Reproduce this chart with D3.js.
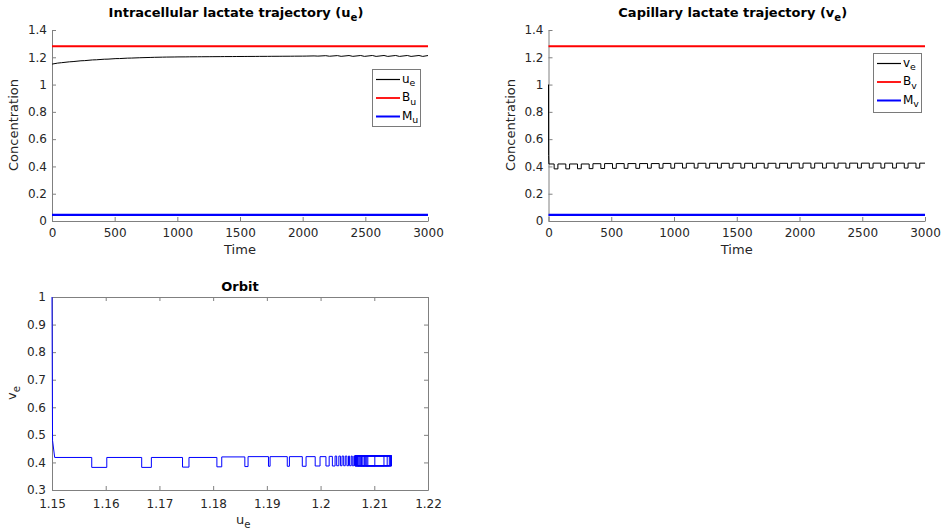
<!DOCTYPE html>
<html>
<head>
<meta charset="utf-8">
<script src="https://cdn.jsdelivr.net/npm/d3@7/dist/d3.min.js"></script>
<style>
  html, body { margin: 0; padding: 0; background: #fff; }
  svg { display: block; }
  text { font-family: "DejaVu Sans", sans-serif; }
</style>
</head>
<body>
<svg id="chart" width="943" height="532"></svg>
<script>
// ---------------- data ----------------
// initial transient (t, u_e, v_e)
const startT = [0, 1, 3];
const startU = [1.15, 1.1501, 1.1505];
const startV = [1.0, 0.48, 0.418];

// times where v_e switches to its low level / back to its high level
const lowStart = [45, 138, 231, 324, 417, 510, 603, 696, 789, 882, 975, 1068, 1161, 1254, 1347, 1440,
                  1533, 1626, 1719, 1812, 1905, 1998, 2091, 2184, 2277, 2370, 2463, 2556, 2649, 2742, 2835, 2928];
const lowEnd   = [75, 168, 261, 354, 447, 540, 633, 726, 819, 912, 1005, 1098, 1191, 1284, 1377, 1470,
                  1563, 1656, 1749, 1842, 1935, 2028, 2121, 2214, 2307, 2400, 2493, 2586, 2679, 2772, 2865, 2958];
// u_e at those switching times
const uLowStart = [1.1574, 1.1667, 1.1743, 1.1807, 1.1859, 1.1903, 1.1938, 1.1966, 1.1990, 1.2010, 1.2022, 1.2030,
                   1.2037, 1.2043, 1.2049, 1.2054, 1.2059, 1.2064, 1.2069, 1.2074, 1.2079, 1.2084, 1.2101, 1.2118,
                   1.2124, 1.2128, 1.2130, 1.2131, 1.2132, 1.2132, 1.2132, 1.2132];
const uLowEnd   = [1.1602, 1.1685, 1.1755, 1.1816, 1.1865, 1.1906, 1.1942, 1.1973, 1.1999, 1.2016, 1.2027, 1.2034,
                   1.2040, 1.2046, 1.2052, 1.2057, 1.2062, 1.2067, 1.2072, 1.2077, 1.2082, 1.2088, 1.2086, 1.2076,
                   1.2070, 1.2068, 1.2066, 1.2065, 1.2065, 1.2064, 1.2064, 1.2064];
// v_e level in the high phase before each low phase (last entry: after the last one) and in each low phase
const vHigh = [0.418, 0.418, 0.418, 0.418, 0.420, 0.421, 0.421, 0.421, 0.421, 0.421, 0.422, 0.423, 0.423, 0.423,
               0.423, 0.423, 0.423, 0.423, 0.423, 0.423, 0.423, 0.424, 0.424, 0.424, 0.424, 0.424, 0.424, 0.424,
               0.424, 0.424, 0.424, 0.424, 0.424];
const vLow  = [0.382, 0.382, 0.383, 0.384, 0.385, 0.386, 0.386, 0.386, 0.387, 0.387, 0.387, 0.388, 0.388, 0.388,
               0.388, 0.388, 0.388, 0.388, 0.388, 0.388, 0.388, 0.388, 0.388, 0.388, 0.388, 0.388, 0.388, 0.388,
               0.388, 0.388, 0.388, 0.388];
const endT = 3000, endU = 1.2128;

// bounds
const Bu = 1.28, Mu = 0.045;
const Bv = 1.28, Mv = 0.045;

// ticks
const timeTicks = [0, 500, 1000, 1500, 2000, 2500, 3000];
const concTicks = [0, 0.2, 0.4, 0.6, 0.8, 1, 1.2, 1.4];
const orbitXTicks = [1.15, 1.16, 1.17, 1.18, 1.19, 1.2, 1.21, 1.22];
const orbitYTicks = [0.3, 0.4, 0.5, 0.6, 0.7, 0.8, 0.9, 1];

// ---------------- build trajectory table ----------------
const traj = [];
startT.forEach((t, i) => traj.push({t, u: startU[i], v: startV[i]}));
lowStart.forEach((t, k) => {
  traj.push({t, u: uLowStart[k], v: vHigh[k]});
  traj.push({t, u: uLowStart[k], v: vLow[k]});
  traj.push({t: lowEnd[k], u: uLowEnd[k], v: vLow[k]});
  traj.push({t: lowEnd[k], u: uLowEnd[k], v: vHigh[k + 1]});
});
traj.push({t: endT, u: endU, v: vHigh[vHigh.length - 1]});

// ---------------- drawing ----------------
const svg = d3.select("#chart");
const AX = "#808080", TXT = "#262626";

function fmt(d) { return String(+d.toFixed(2)); }

function styleAxis(g) {
  g.selectAll(".domain").attr("stroke", AX).attr("stroke-width", 1);
  g.selectAll(".tick line").attr("stroke", AX);
  g.selectAll(".tick text").attr("fill", TXT).style("font-size", "12px")
    .style("font-family", "DejaVu Sans, sans-serif");
}

function subText(g, x, y, main, sub, size, opts = {}) {
  const t = g.append("text").attr("x", x).attr("y", y).attr("fill", opts.fill || TXT)
    .style("font-size", size + "px")
    .attr("text-anchor", opts.anchor || "start")
    .style("font-weight", opts.bold ? "bold" : "normal");
  if (opts.rotate) t.attr("transform", `rotate(-90,${x},${y})`);
  t.append("tspan").text(main);
  t.append("tspan").text(sub).attr("dy", size * 0.3).style("font-size", (size * 0.78) + "px");
  if (opts.after) t.append("tspan").text(opts.after).attr("dy", -size * 0.3);
  return t;
}

function timePanel(x0, x1, key, title, sub, B, M, legBox, labels) {
  const x = d3.scaleLinear().domain([0, 3000]).range([x0, x1]);
  const y = d3.scaleLinear().domain([0, 1.4]).range([221, 30]);
  const g = svg.append("g");

  const gx = g.append("g").attr("transform", "translate(0,221)")
    .call(d3.axisBottom(x).tickValues(timeTicks).tickSizeInner(-4).tickSizeOuter(0).tickPadding(7).tickFormat(d3.format("d")));
  styleAxis(gx);
  const gy = g.append("g").attr("transform", `translate(${x0},0)`)
    .call(d3.axisLeft(y).tickValues(concTicks).tickSizeInner(-4).tickSizeOuter(0).tickPadding(5).tickFormat(fmt));
  styleAxis(gy);

  // bound lines
  const ends = [timeTicks[0], timeTicks[timeTicks.length - 1]];
  g.append("path").datum(ends)
    .attr("d", d3.line().x(d => x(d)).y(() => y(B))).attr("stroke", "#ff0000").attr("stroke-width", 2).attr("fill", "none");
  g.append("path").datum(ends)
    .attr("d", d3.line().x(d => x(d)).y(() => y(M))).attr("stroke", "#0000ff").attr("stroke-width", 2.2).attr("fill", "none");
  // trajectory
  g.append("path").datum(traj)
    .attr("d", d3.line().x(d => x(d.t)).y(d => y(d[key])))
    .attr("stroke", "#000").attr("stroke-width", 1).attr("fill", "none");

  // labels
  g.append("text").attr("x", (x0 + x1) / 2).attr("y", 254).attr("text-anchor", "middle")
    .attr("fill", TXT).style("font-size", "13px").text("Time");
  g.append("text").attr("transform", `translate(${x0 - 34},125) rotate(-90)`).attr("text-anchor", "middle")
    .attr("fill", TXT).style("font-size", "13px").text("Concentration");
  subText(g, (x0 + x1) / 2 - 4, 17, title, sub, 13, {anchor: "middle", bold: true, fill: "#000", after: ")"});

  // legend
  const [lx, ly, lw, lh] = legBox;
  g.append("rect").attr("x", lx + 0.5).attr("y", ly + 0.5).attr("width", lw).attr("height", lh)
    .attr("fill", "#fff").attr("stroke", "#7a7a7a").attr("stroke-width", 1);
  const cols = ["#000", "#ff0000", "#0000ff"], widths = [1.2, 1.8, 2];
  labels.forEach((lab, i) => {
    const yy = ly + 10.5 + i * 18.5;
    g.append("line").attr("x1", lx + 4).attr("x2", lx + 28).attr("y1", yy).attr("y2", yy)
      .attr("stroke", cols[i]).attr("stroke-width", widths[i]);
    subText(g, lx + 30, yy + 3, lab[0], lab[1], 12, {fill: "#000"});
  });
}

timePanel(52, 428, "u", "Intracellular lactate trajectory (u", "e", Bu, Mu,
  [372, 69, 48, 57], [["u", "e"], ["B", "u"], ["M", "u"]]);
timePanel(548.5, 925, "v", "Capillary lactate trajectory (v", "e", Bv, Mv,
  [873, 53, 48, 59], [["v", "e"], ["B", "v"], ["M", "v"]]);

// ---------------- orbit ----------------
(function () {
  const x = d3.scaleLinear().domain([1.15, 1.22]).range([52, 428]);
  const y = d3.scaleLinear().domain([0.3, 1]).range([490, 297]);
  const g = svg.append("g");
  const noLab = () => "";
  const gx = g.append("g").attr("transform", "translate(0,490)")
    .call(d3.axisBottom(x).tickValues(orbitXTicks).tickSizeInner(-4).tickSizeOuter(0).tickPadding(9).tickFormat(fmt));
  styleAxis(gx);
  const gt = g.append("g").attr("transform", "translate(0,297)")
    .call(d3.axisTop(x).tickValues(orbitXTicks).tickSizeInner(-4).tickSizeOuter(0).tickFormat(noLab));
  styleAxis(gt);
  const gy = g.append("g").attr("transform", "translate(52,0)")
    .call(d3.axisLeft(y).tickValues(orbitYTicks).tickSizeInner(-4).tickSizeOuter(0).tickPadding(6).tickFormat(fmt));
  styleAxis(gy);
  const gr = g.append("g").attr("transform", "translate(428,0)")
    .call(d3.axisRight(y).tickValues(orbitYTicks).tickSizeInner(-4).tickSizeOuter(0).tickFormat(noLab));
  styleAxis(gr);

  g.append("path").datum(traj)
    .attr("d", d3.line().x(d => x(d.u)).y(d => y(d.v)))
    .attr("stroke", "#0000ff").attr("stroke-width", 1).attr("fill", "none");

  g.append("text").attr("x", 240).attr("y", 291).attr("text-anchor", "middle")
    .attr("fill", "#000").style("font-size", "13px").style("font-weight", "bold").text("Orbit");
  subText(g, 236, 524, "u", "e", 13, {});
  subText(g, 16, 400, "v", "e", 13, {rotate: true});
})();
</script>
</body>
</html>
